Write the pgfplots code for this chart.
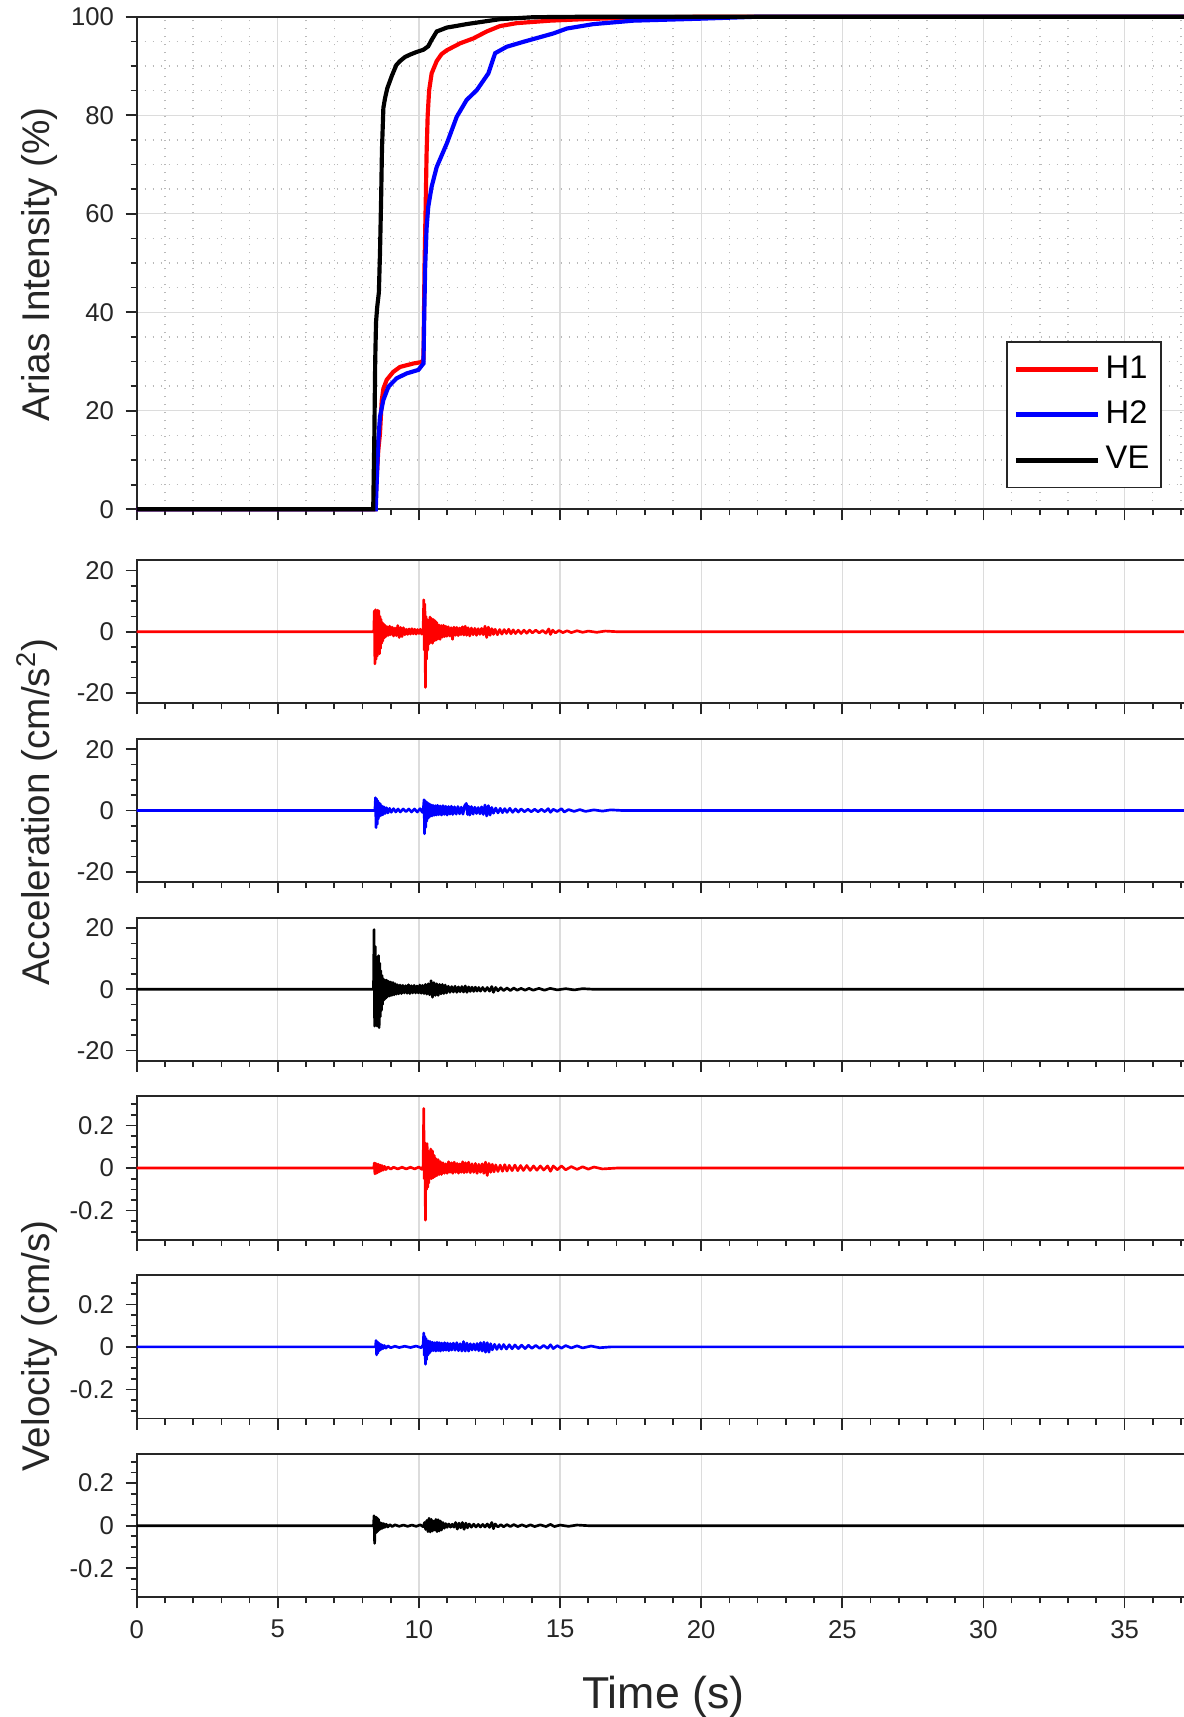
\documentclass[border=0pt]{standalone}
\usepackage{fontspec}
\setmainfont{Liberation Sans}
\usepackage{pgfplots}
\pgfplotsset{compat=1.18}

\definecolor{axgray}{HTML}{262626}
\definecolor{gridgray}{HTML}{DCDCDC}

\pgfplotsset{
  base/.style={
    scale only axis, width=316pt, xmin=0, xmax=37.32,
    anchor=north west, clip=false,
    axis line style={axgray, line width=0.55pt},
    tick style={axgray, line width=0.5pt},
    tick align=outside,
    major tick length=3.3pt, minor tick length=1.8pt,
    xtick pos=left, ytick pos=left,
    xtick={0,5,...,35}, minor xtick={0,1,...,37},
    ticklabel style={font=\fontsize{7.7}{9}\selectfont, text=axgray},
    /pgf/number format/assume math mode=true,
    grid style={gridgray, line width=0.4pt},
  },
  acc/.style={base, height=43pt, xmajorgrids, xticklabels={},
    ymin=-23.4, ymax=23.4, ytick={-20,0,20}, minor ytick={-20,-15,...,20}},
  vel/.style={base, height=43pt, xmajorgrids,
    ymin=-0.337, ymax=0.337, ytick={-0.2,0,0.2},
    minor ytick={-0.3,-0.25,-0.15,-0.1,-0.05,0.05,0.1,0.15,0.25,0.3}},
  trace/.style={line width=0.8pt, line join=round},
}

\begin{document}
\begin{tikzpicture}
\path[use as bounding box] (0pt,0pt) rectangle (355.2pt,-515.1pt);

% Arias intensity
\begin{axis}[base, at={(41.01pt,-5.01pt)}, height=147.78pt,
  xticklabels={},
  ymin=0, ymax=100, ytick={0,20,...,100}, minor ytick={0,5,...,100},
  grid=both, minor grid style={gray!55, dotted, line width=0.4pt},
  legend style={at={(axis cs:36.32,4.26)}, anchor=south east,
    draw=axgray, line width=0.5pt, fill=white,
    font=\fontsize{9.8}{11}\selectfont, inner xsep=2pt, inner ysep=2.6pt,
    row sep=2.3pt, nodes={inner sep=1.5pt}},
  legend cell align=left,
  legend image code/.code={\draw[line width=1.5pt] (0pt,0pt) -- (24.7pt,0pt);},
]
\addplot[red, line width=1.25pt] coordinates {
(0,0) (8.44,0) (8.50,6) (8.56,12) (8.62,15.4) (8.68,22) (8.74,24.5)
(8.86,26.3) (9.09,27.9) (9.33,28.9) (9.80,29.6) (10.10,29.9) (10.16,30.5)
(10.20,50) (10.24,62) (10.27,72) (10.31,80) (10.36,85) (10.45,88.5)
(10.63,91) (10.80,92.4) (10.99,93.2) (11.46,94.6) (11.93,95.6) (12.40,97)
(12.87,98.1) (13.47,98.7) (14.65,99.2) (15.83,99.5) (17.5,99.8) (20,100) (37.3,100)
};
\addlegendentry{H1}
\addplot[blue, line width=1.25pt] coordinates {
(0,0) (8.47,0) (8.52,8) (8.56,14) (8.62,18.8) (8.74,22.2) (8.92,24.9)
(9.21,26.6) (9.57,27.6) (9.98,28.3) (10.16,29.6) (10.19,40) (10.22,49)
(10.27,57) (10.33,61.4) (10.45,65.5) (10.63,69.5) (10.99,74.3) (11.34,79.7)
(11.69,83.1) (12.05,85.1) (12.46,88.5) (12.70,92.6) (13.11,93.9) (13.70,94.9)
(14.76,96.6) (15.24,97.6) (16.18,98.5) (17.60,99.2) (19.96,99.6) (22,100) (37.3,100)
};
\addlegendentry{H2}
\addplot[black, line width=1.25pt] coordinates {
(0,0) (8.38,0) (8.42,15) (8.45,30) (8.48,38) (8.52,41) (8.58,44) (8.62,52)
(8.66,63) (8.69,73) (8.74,81.5) (8.80,83.5) (8.88,85.5) (9.04,88) (9.20,90.2)
(9.33,91) (9.50,91.8) (9.68,92.3) (9.90,92.8) (10.16,93.3) (10.33,94)
(10.45,95.3) (10.63,97) (10.99,97.8) (11.30,98.1) (11.69,98.5) (12.28,99)
(12.87,99.5) (14.05,99.9) (16,100) (37.3,100)
};
\addlegendentry{VE}
\end{axis}

% Acceleration H1
\begin{axis}[acc, at={(41.01pt,-168.0pt)}]
\addplot[red, trace] coordinates {
(0,0) (8.40,0) (8.42,6.8) (8.44,-10.5) (8.46,7.2) (8.48,-9.0) (8.50,5.5) (8.52,-8.0)
(8.54,7.0) (8.56,-6.5) (8.58,6.8) (8.60,-7.2) (8.62,5.0) (8.64,-5.5) (8.66,4.0)
(8.68,-3.8) (8.70,3.0) (8.72,-3.0) (8.75,2.5) (8.78,-2.0) (8.81,2.0) (8.84,-1.5)
(8.88,1.6) (8.92,-1.2) (8.96,1.8) (9.00,-1.0) (9.05,1.5) (9.10,-1.4) (9.15,1.2)
(9.20,-1.3) (9.25,2.0) (9.30,-1.9) (9.35,1.4) (9.40,-1.6) (9.45,1.3) (9.50,-1.0)
(9.55,0.8) (9.60,-0.9) (9.65,0.9) (9.70,-0.8) (9.75,1.0) (9.80,-0.7) (9.85,0.8)
(9.90,-0.8) (9.95,0.7) (10.00,-0.6) (10.05,0.8) (10.10,-0.8) (10.15,0.8)
(10.17,10.4) (10.19,-6) (10.21,9) (10.23,-18.2) (10.25,5) (10.27,-9) (10.29,4)
(10.31,-6) (10.33,3.5) (10.36,-4) (10.39,4.8) (10.42,-3.5) (10.45,4.3) (10.48,-3.8)
(10.51,4.0) (10.54,-3) (10.57,3.6) (10.60,-2.8) (10.63,3.0) (10.67,-2.4) (10.71,2.2)
(10.75,-2.5) (10.79,2.0) (10.83,-1.8) (10.87,2.1) (10.91,-1.6) (10.95,1.8) (10.99,-1.5)
(11.04,1.6) (11.09,-1.4) (11.14,1.3) (11.19,-2.5) (11.24,1.5) (11.29,-1.2) (11.34,1.4)
(11.39,-1.3) (11.44,1.2) (11.49,-1.0) (11.54,1.6) (11.59,-1.1) (11.64,1.8) (11.69,-1.2)
(11.74,1.3) (11.80,-1.4) (11.86,1.2) (11.92,-1.0) (11.98,1.1) (12.04,-1.2) (12.10,1.0)
(12.16,-0.9) (12.22,1.1) (12.28,-1.0) (12.34,1.8) (12.40,-1.9) (12.46,1.5) (12.52,-1.2)
(12.58,1.0) (12.64,-0.9) (12.70,0.8) (12.78,-1.0) (12.86,0.7) (12.94,-0.8) (13.02,0.7)
(13.10,-0.6) (13.18,0.8) (13.26,-0.7) (13.34,0.6) (13.42,-0.6) (13.52,0.5) (13.62,-0.6)
(13.72,0.5) (13.82,-0.5) (13.92,0.5) (14.02,-0.4) (14.14,0.5) (14.26,-0.4) (14.38,0.4)
(14.50,-0.5) (14.60,0.9) (14.66,-0.9) (14.74,0.5) (14.84,-0.4) (14.96,0.4) (15.10,-0.3)
(15.25,0.3) (15.40,-0.3) (15.60,0.3) (15.80,-0.2) (16.00,0.2) (16.3,-0.2) (16.6,0.2)
(17.0,0) (37.3,0)
};
\end{axis}

% Acceleration H2
\begin{axis}[acc, at={(41.01pt,-221.64pt)}]
\addplot[blue, trace] coordinates {
(0,0) (8.44,0) (8.46,4.2) (8.48,-5.6) (8.50,3.8) (8.52,-4.5) (8.54,3.2) (8.56,-2.8)
(8.58,2.6) (8.60,-2.0) (8.63,2.2) (8.66,-1.6) (8.69,1.5) (8.72,-1.4) (8.76,1.2)
(8.80,-1.0) (8.85,0.9) (8.90,-0.8) (8.96,0.7) (9.02,-0.6) (9.10,0.6) (9.18,-0.5)
(9.26,0.5) (9.34,-0.5) (9.44,0.5) (9.54,-0.4) (9.64,0.5) (9.74,-0.5) (9.84,0.5)
(9.94,-0.5) (10.04,0.6) (10.12,-0.6) (10.16,1.0) (10.18,3.5) (10.20,-7.6) (10.22,3.2)
(10.24,-5.5) (10.26,2.8) (10.28,-3.5) (10.30,2.6) (10.33,-2.5) (10.36,2.2) (10.39,-2.0)
(10.42,1.9) (10.46,-1.8) (10.50,1.7) (10.54,-1.6) (10.58,1.6) (10.62,-1.5) (10.66,1.7)
(10.70,-1.4) (10.75,1.5) (10.80,-1.5) (10.85,1.6) (10.90,-1.3) (10.95,1.4) (11.00,-1.5)
(11.05,1.3) (11.10,-1.2) (11.15,1.4) (11.20,-1.3) (11.26,1.2) (11.32,-1.2) (11.38,1.3)
(11.44,-1.1) (11.50,1.1) (11.56,-1.2) (11.62,1.6) (11.68,2.3) (11.72,-1.3) (11.76,1.4)
(11.80,-1.5) (11.86,1.3) (11.92,-1.2) (11.98,1.1) (12.04,-1.0) (12.10,1.0) (12.16,-1.1)
(12.22,1.2) (12.28,-1.3) (12.34,1.8) (12.40,-1.8) (12.46,1.6) (12.52,-1.5) (12.58,1.0)
(12.64,-0.9) (12.72,0.8) (12.80,-0.8) (12.88,0.7) (12.96,-0.7) (13.04,0.6) (13.12,-0.6)
(13.22,0.7) (13.32,-0.6) (13.42,0.5) (13.52,-0.5) (13.62,0.5) (13.74,-0.4) (13.86,0.4)
(13.98,-0.4) (14.10,0.4) (14.22,-0.4) (14.34,0.4) (14.46,-0.4) (14.58,0.6) (14.66,-0.6)
(14.76,0.4) (14.90,-0.3) (15.05,0.6) (15.15,-0.5) (15.30,0.3) (15.50,-0.3) (15.70,0.3)
(15.90,-0.3) (16.2,0.2) (16.5,-0.2) (16.8,0.2) (17.2,0) (37.3,0)
};
\end{axis}

% Acceleration VE
\begin{axis}[acc, at={(41.01pt,-275.28pt)}]
\addplot[black, trace] coordinates {
(0,0) (8.39,0) (8.41,19.5) (8.43,-12.0) (8.45,14.0) (8.47,-10.5) (8.49,9.0) (8.51,-12.0)
(8.53,10.5) (8.55,-11.5) (8.57,11.0) (8.59,-12.5) (8.61,8.5) (8.63,-9.0) (8.65,6.0)
(8.67,-7.0) (8.69,4.5) (8.71,-5.0) (8.73,3.5) (8.76,-3.5) (8.79,3.0) (8.82,-3.0)
(8.85,3.0) (8.88,-2.5) (8.92,2.6) (8.96,-2.2) (9.00,2.4) (9.04,-2.0) (9.08,2.2)
(9.12,-1.8) (9.16,1.8) (9.20,-1.6) (9.24,1.5) (9.28,-1.5) (9.33,1.4) (9.38,-1.4)
(9.43,1.3) (9.48,-1.2) (9.53,1.2) (9.58,-1.3) (9.63,1.5) (9.68,-1.4) (9.73,1.2)
(9.78,-1.2) (9.83,1.3) (9.88,-1.2) (9.93,1.1) (9.98,-1.2) (10.03,1.4) (10.08,-1.3)
(10.13,1.3) (10.18,-1.4) (10.23,1.6) (10.28,-1.6) (10.33,1.8) (10.38,-1.8) (10.43,2.8)
(10.48,-2.6) (10.53,2.2) (10.58,-2.0) (10.63,1.8) (10.68,-2.0) (10.73,1.6) (10.78,-1.5)
(10.83,1.6) (10.88,-1.4) (10.93,1.4) (10.98,-1.2) (11.04,1.0) (11.10,-1.0) (11.16,0.9)
(11.22,-0.9) (11.28,1.0) (11.34,-1.0) (11.40,0.8) (11.46,-0.8) (11.52,0.9) (11.58,-0.9)
(11.64,1.1) (11.70,-1.0) (11.76,0.8) (11.82,-0.7) (11.88,0.7) (11.94,-0.7) (12.00,0.7)
(12.06,-0.6) (12.12,0.6) (12.18,-0.6) (12.26,0.6) (12.34,-0.6) (12.42,0.6) (12.50,-0.6)
(12.58,0.9) (12.64,-1.0) (12.72,0.6) (12.80,-0.5) (12.90,0.5) (13.00,-0.4) (13.12,0.4)
(13.24,-0.4) (13.36,0.4) (13.48,-0.3) (13.62,0.3) (13.76,-0.3) (13.90,0.3) (14.05,-0.3)
(14.25,0.3) (14.45,-0.3) (14.65,0.3) (14.90,-0.2) (15.2,0.2) (15.5,-0.2) (15.8,0.2)
(16.2,0) (37.3,0)
};
\end{axis}

% Velocity H1
\begin{axis}[vel, at={(41.01pt,-328.92pt)}, xticklabels={}]
\addplot[red, trace] coordinates {
(0,0) (8.40,0) (8.42,0.024) (8.44,-0.027) (8.46,0.022) (8.48,-0.025) (8.50,0.020)
(8.53,-0.022) (8.56,0.018) (8.59,-0.018) (8.62,0.015) (8.65,-0.014) (8.69,0.012)
(8.73,-0.010) (8.78,0.008) (8.83,-0.007) (8.90,0.005) (9.00,-0.005) (9.10,0.004)
(9.25,-0.004) (9.40,0.004) (9.55,-0.004) (9.70,0.004) (9.85,-0.004) (10.00,0.005)
(10.10,-0.006) (10.15,0.01) (10.17,0.28) (10.19,-0.05) (10.21,0.12) (10.23,-0.245)
(10.25,0.10) (10.27,-0.10) (10.29,0.115) (10.31,-0.09) (10.33,0.08) (10.35,-0.07)
(10.37,0.07) (10.39,-0.05) (10.42,0.09) (10.45,-0.05) (10.48,0.08) (10.51,-0.045)
(10.54,0.06) (10.57,-0.04) (10.60,0.045) (10.64,-0.035) (10.68,0.04) (10.72,-0.03)
(10.76,0.03) (10.80,-0.03) (10.85,0.025) (10.90,-0.025) (10.95,0.02) (11.00,-0.025)
(11.05,0.03) (11.10,-0.02) (11.15,0.025) (11.20,-0.025) (11.25,0.028) (11.30,-0.02)
(11.35,0.022) (11.40,-0.024) (11.45,0.02) (11.50,-0.02) (11.55,0.03) (11.60,-0.022)
(11.65,0.025) (11.70,-0.02) (11.76,0.028) (11.82,-0.022) (11.88,0.02) (11.94,-0.02)
(12.00,0.022) (12.06,-0.025) (12.12,0.018) (12.18,-0.02) (12.24,0.02) (12.30,-0.025)
(12.36,0.028) (12.42,-0.035) (12.48,0.022) (12.54,-0.02) (12.60,0.018) (12.66,-0.018)
(12.72,0.015) (12.80,-0.016) (12.88,0.014) (12.96,-0.015) (13.04,0.016) (13.12,-0.014)
(13.20,0.013) (13.30,-0.012) (13.40,0.014) (13.50,-0.012) (13.60,0.012) (13.70,-0.011)
(13.82,0.012) (13.94,-0.011) (14.06,0.01) (14.18,-0.01) (14.30,0.01) (14.42,-0.009)
(14.56,0.01) (14.66,-0.015) (14.76,0.01) (14.90,-0.008) (15.05,0.01) (15.20,-0.008)
(15.40,0.007) (15.60,-0.006) (15.80,0.006) (16.0,-0.005) (16.2,0.005) (16.5,-0.004)
(17.0,0) (37.3,0)
};
\end{axis}

% Velocity H2
\begin{axis}[vel, at={(41.01pt,-382.56pt)}, xticklabels={}]
\addplot[blue, trace] coordinates {
(0,0) (8.46,0) (8.48,0.03) (8.50,-0.038) (8.52,0.025) (8.54,-0.03) (8.56,0.02)
(8.58,-0.02) (8.61,0.015) (8.64,-0.014) (8.68,0.01) (8.72,-0.009) (8.77,0.007)
(8.83,-0.006) (8.90,0.005) (9.00,-0.004) (9.15,0.003) (9.30,-0.003) (9.50,0.003)
(9.70,-0.003) (9.90,0.004) (10.08,-0.004) (10.15,0.01) (10.17,0.065) (10.19,-0.04)
(10.21,0.05) (10.23,-0.082) (10.25,0.04) (10.27,-0.06) (10.29,0.03) (10.31,-0.04)
(10.34,0.028) (10.37,-0.03) (10.40,0.025) (10.44,-0.02) (10.48,0.022) (10.52,-0.018)
(10.56,0.02) (10.60,-0.02) (10.64,0.022) (10.68,-0.018) (10.72,0.02) (10.76,-0.02)
(10.81,0.018) (10.86,-0.017) (10.91,0.02) (10.96,-0.016) (11.01,0.018) (11.06,-0.018)
(11.11,0.016) (11.16,-0.015) (11.22,0.018) (11.28,-0.016) (11.34,0.02) (11.40,-0.018)
(11.46,0.015) (11.52,-0.02) (11.58,0.025) (11.64,-0.02) (11.70,0.018) (11.76,-0.02)
(11.82,0.015) (11.88,-0.015) (11.94,0.014) (12.00,-0.015) (12.06,0.016) (12.12,-0.018)
(12.18,0.02) (12.24,-0.02) (12.30,0.022) (12.36,-0.025) (12.42,0.02) (12.48,-0.025)
(12.54,0.015) (12.60,-0.014) (12.68,0.012) (12.76,-0.012) (12.84,0.011) (12.92,-0.01)
(13.00,0.011) (13.10,-0.01) (13.20,0.01) (13.30,-0.009) (13.40,0.009) (13.52,-0.008)
(13.64,0.008) (13.76,-0.008) (13.88,0.008) (14.00,-0.007) (14.14,0.007) (14.28,-0.007)
(14.42,0.007) (14.56,-0.007) (14.66,0.01) (14.76,-0.008) (14.90,0.006) (15.05,-0.006)
(15.2,0.006) (15.4,-0.005) (15.6,0.005) (15.8,-0.005) (16.1,0.004) (16.4,-0.004)
(16.8,0) (37.3,0)
};
\end{axis}

% Velocity VE
\begin{axis}[vel, at={(41.01pt,-436.2pt)},
  xlabel={Time (s)},
  xlabel style={at={(axis description cs:0.5,0)}, anchor=base, yshift=-33.3pt,
    font=\fontsize{13.4}{15}\selectfont, text=axgray},
]
\addplot[black, trace] coordinates {
(0,0) (8.39,0) (8.41,0.047) (8.43,-0.083) (8.45,0.04) (8.47,-0.035) (8.49,0.04)
(8.51,-0.03) (8.53,0.035) (8.55,-0.025) (8.57,0.03) (8.59,-0.02) (8.62,0.015)
(8.65,-0.015) (8.68,0.012) (8.71,-0.012) (8.75,0.01) (8.79,-0.008) (8.84,0.007)
(8.90,-0.006) (8.97,0.005) (9.05,-0.004) (9.15,0.004) (9.30,-0.003) (9.45,0.003)
(9.60,-0.003) (9.75,0.003) (9.90,-0.003) (10.05,0.004) (10.15,-0.005) (10.20,0.015)
(10.24,-0.018) (10.28,0.025) (10.32,-0.028) (10.36,0.035) (10.40,-0.03) (10.44,0.03)
(10.48,-0.025) (10.52,0.022) (10.56,-0.02) (10.60,0.03) (10.64,-0.028) (10.68,0.028)
(10.72,-0.025) (10.76,0.022) (10.80,-0.02) (10.85,0.015) (10.90,-0.012) (10.95,0.01)
(11.00,-0.008) (11.06,0.008) (11.12,-0.007) (11.18,0.007) (11.24,-0.007) (11.30,0.015)
(11.36,-0.016) (11.42,0.012) (11.48,-0.01) (11.54,0.015) (11.60,-0.017) (11.66,0.012)
(11.72,-0.01) (11.78,0.008) (11.86,-0.007) (11.94,0.007) (12.02,-0.006) (12.10,0.006)
(12.18,-0.006) (12.26,0.006) (12.34,-0.006) (12.42,0.008) (12.50,-0.008) (12.58,0.015)
(12.64,-0.014) (12.70,0.008) (12.80,-0.006) (12.90,0.005) (13.00,-0.005) (13.12,0.005)
(13.24,-0.004) (13.36,0.005) (13.50,-0.004) (13.65,0.004) (13.80,-0.004) (13.95,0.004)
(14.10,-0.004) (14.30,0.004) (14.50,-0.004) (14.66,0.006) (14.80,-0.004) (15.0,0.003)
(15.3,-0.003) (15.6,0.003) (16.0,0) (37.3,0)
};
\end{axis}

% shared y labels
\begin{scope}[every node/.style={rotate=90, anchor=base, text=axgray,
    font=\fontsize{11.6}{13}\selectfont}]
\node at (15pt,-79.35pt) {Arias Intensity (\%)};
\node at (15pt,-243.6pt) {Acceleration (cm/s\textsuperscript{2})};
\node at (15pt,-403.8pt) {Velocity (cm/s)};
\end{scope}
\end{tikzpicture}
\end{document}
